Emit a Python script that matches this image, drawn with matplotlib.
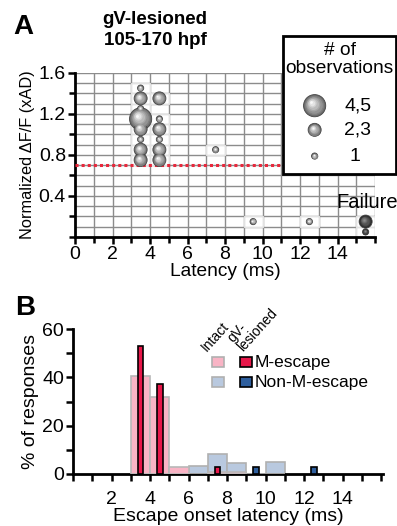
import numpy as np
import matplotlib.pyplot as plt
from matplotlib.patches import Rectangle
from matplotlib.transforms import ScaledTranslation

plt.rcParams['font.family'] = ['Liberation Sans', 'DejaVu Sans']

# ---- panel A data: bubble positions (latency, normalized dF/F) and observation counts
lat_a = [3.5, 3.5, 3.5, 3.5, 3.5, 3.5, 3.5, 3.5,
         4.5, 4.5, 4.5, 4.5, 4.5, 4.5,
         7.5, 9.5, 12.5]
dff_a = [1.45, 1.35, 1.25, 1.15, 1.05, 0.95, 0.85, 0.75,
         1.35, 1.15, 1.05, 0.95, 0.85, 0.75,
         0.85, 0.15, 0.15]
cnt_a = [1, 2, 1, 4, 2, 1, 2, 2,
         2, 1, 2, 1, 2, 2,
         1, 1, 1]
fail_lat = [15.5, 15.5]
fail_dff = [0.15, 0.05]
fail_cnt = [2, 1]
threshold = 0.7

legend_labels = ['4,5', '2,3', '1']
legend_cnt = [4, 2, 1]

# ---- panel B data: histograms, % of responses per 1 ms bin
bin_left = [3, 4, 5, 6, 7, 8, 9, 10]
intact_m = [40.6, 31.9, 3.0, 0, 1.0, 1.0, 0, 0]
intact_nonm = [0, 0, 0, 3.3, 8.2, 4.7, 0, 5.0]
lesion_m_x = [3.5, 4.5, 7.5]
lesion_m = [52.9, 37.2, 2.8]
lesion_nonm_x = [9.5, 12.5]
lesion_nonm = [2.8, 2.8]

SIZE = {1: 20, 2: 88, 3: 88, 4: 255, 5: 255}
FS = 14

W, H = 397, 526
fig = plt.figure(figsize=(W / 100, H / 100), dpi=100)


def fx(px):
    return px / W


def fy(py):
    return 1 - py / H


def bubbles(ax, xs, ys, cnts, dark=False):
    sizes = np.array([SIZE[c] for c in cnts], dtype=float)
    n = 8
    if dark:
        cols = plt.cm.gray(np.linspace(0.15, 0.55, n))
    else:
        cols = plt.cm.gray(np.linspace(0.42, 0.97, n))
    ax.scatter(xs, ys, s=sizes, c=[cols[0]], edgecolors='#444444',
               linewidths=0.6, zorder=5, clip_on=False)
    for i in range(1, n):
        f = 1 - i / n
        for x, y, s in zip(xs, ys, sizes):
            rr = np.sqrt(s) / 2
            off = ScaledTranslation(-rr * (1 - f) * 0.35 / 72,
                                    rr * (1 - f) * 0.35 / 72,
                                    fig.dpi_scale_trans)
            ax.scatter([x], [y], s=s * f * f, c=[cols[i]], linewidths=0,
                       zorder=5 + i * 0.01, transform=ax.transData + off,
                       clip_on=False)


# ================= panel A =================
axA = fig.add_axes([fx(75), fy(237), fx(300), (237 - 72.7) / H])
axA.set_xlim(0, 16)
axA.set_ylim(0, 1.6)
for gx in np.arange(1, 16.5, 1):
    axA.axvline(gx, color='#8c8c8c', lw=1.0, zorder=1)
for gy in np.arange(0.1, 1.65, 0.1):
    axA.axhline(gy, color='#8c8c8c', lw=1.0, zorder=1)
for x, y in zip(lat_a + fail_lat, dff_a + fail_dff):
    axA.add_patch(Rectangle((x - 0.5, y - 0.05), 1, 0.1,
                            facecolor=(1, 1, 1, 0.55),
                            edgecolor='#e2e2e2', lw=0.8, zorder=2))
axA.axhline(threshold, color='#e8283c', lw=2.2, ls=(0, (1.0, 1.0)), zorder=3)
bubbles(axA, lat_a, dff_a, cnt_a)
bubbles(axA, fail_lat, fail_dff, fail_cnt, dark=True)
axA.text(15.6, 0.245, 'Failure', ha='center', va='bottom', fontsize=14.5,
         zorder=6)

axA.set_xticks(np.arange(0, 15, 2))
axA.set_xticks(np.arange(0, 17, 1), minor=True)
axA.set_yticks([0.4, 0.8, 1.2, 1.6])
axA.set_yticks(np.arange(0, 1.65, 0.2), minor=True)
axA.spines[['top', 'right']].set_visible(False)
for sp in ['left', 'bottom']:
    axA.spines[sp].set_linewidth(2)
axA.tick_params(which='both', width=1.8, labelsize=FS, pad=1.5)
axA.tick_params(which='major', length=5)
axA.tick_params(which='minor', length=4)
axA.set_xlabel('Latency (ms)', fontsize=13.8, labelpad=0)
axA.set_ylabel('Normalized ΔF/F (xAD)', fontsize=11.8, labelpad=3)

# legend box for bubble sizes
fig.patches.append(Rectangle((fx(283), fy(174)), fx(396) - fx(283),
                             fy(36) - fy(174), transform=fig.transFigure,
                             facecolor='white', edgecolor='black', lw=2,
                             zorder=8))
axL = fig.add_axes([fx(283), fy(174), fx(396) - fx(283), fy(36) - fy(174)])
axL.set_xlim(0, 1)
axL.set_ylim(0, 1)
axL.axis('off')
axL.set_zorder(9)
axL.text(0.5, 0.83, '# of\nobservations', ha='center', va='center',
         fontsize=13.8, linespacing=1.1)
leg_y = [0.495, 0.32, 0.13]
bubbles(axL, [0.28] * 3, leg_y, legend_cnt)
for y, lab in zip(leg_y, legend_labels):
    axL.text(0.66 if lab != '1' else 0.64, y, lab, ha='center', va='center',
             fontsize=FS)

fig.text(fx(13), fy(27), 'A', fontsize=20, fontweight='bold', va='center')
fig.text(fx(155), fy(30), 'gV-lesioned\n105-170 hpf', ha='center',
         va='center', fontsize=13.5, fontweight='bold', linespacing=1.3)

# ================= panel B =================
axB = fig.add_axes([fx(73), fy(474), fx(310), 145 / H])
axB.set_xlim(0, 16.1)
axB.set_ylim(0, 60)
axB.bar(bin_left, intact_nonm, width=1, align='edge', color='#b9c9df',
        edgecolor='#b0b0b0', lw=1.2, zorder=2)
axB.bar(bin_left, intact_m, width=1, align='edge', color='#f9b4c5',
        edgecolor='#b8b8b8', lw=1.2, zorder=3)
axB.bar(lesion_m_x, lesion_m, width=0.3, color='#e8174a', edgecolor='black',
        lw=1.2, zorder=4)
axB.bar(lesion_nonm_x, lesion_nonm, width=0.3, color='#2e5f9e',
        edgecolor='black', lw=1.2, zorder=4)

axB.set_xticks(np.arange(2, 15, 2))
axB.set_xticks(np.arange(0, 17, 1), minor=True)
axB.set_yticks([0, 20, 40, 60])
axB.set_yticks([10, 30, 50], minor=True)
axB.spines[['top', 'right']].set_visible(False)
for sp in ['left', 'bottom']:
    axB.spines[sp].set_linewidth(2)
axB.tick_params(which='both', width=1.8, labelsize=FS, pad=1.5)
axB.tick_params(which='both', length=5)
axB.tick_params(axis='x', which='major', pad=7)
axB.set_xlabel('Escape onset latency (ms)', fontsize=14, labelpad=0)
axB.set_ylabel('% of responses', fontsize=14, labelpad=2)

# custom legend for panel B
leg_rows = [('M-escape', '#f9b4c5', '#e8174a', 362),
            ('Non-M-escape', '#b9c9df', '#2e5f9e', 382)]
for lab, c_int, c_les, py in leg_rows:
    fig.patches.append(Rectangle((fx(212), fy(py + 5)), fx(12), 10 / H,
                                 transform=fig.transFigure, facecolor=c_int,
                                 edgecolor='#b0b0b0', lw=1.2))
    fig.patches.append(Rectangle((fx(240), fy(py + 5)), fx(12), 10 / H,
                                 transform=fig.transFigure, facecolor=c_les,
                                 edgecolor='black', lw=1.2))
    fig.text(fx(255), fy(py), lab, va='center', fontsize=12.5)
fig.text(fx(207), fy(352), 'Intact', rotation=48, rotation_mode='anchor',
         ha='left', va='baseline', fontsize=10)
fig.text(fx(244), fy(352), 'gV-\nlesioned', rotation=48,
         rotation_mode='anchor', ha='left', va='baseline', fontsize=10,
         linespacing=0.95)

fig.text(fx(15), fy(308), 'B', fontsize=20, fontweight='bold', va='center')

fig.savefig('out.png', dpi=100)
